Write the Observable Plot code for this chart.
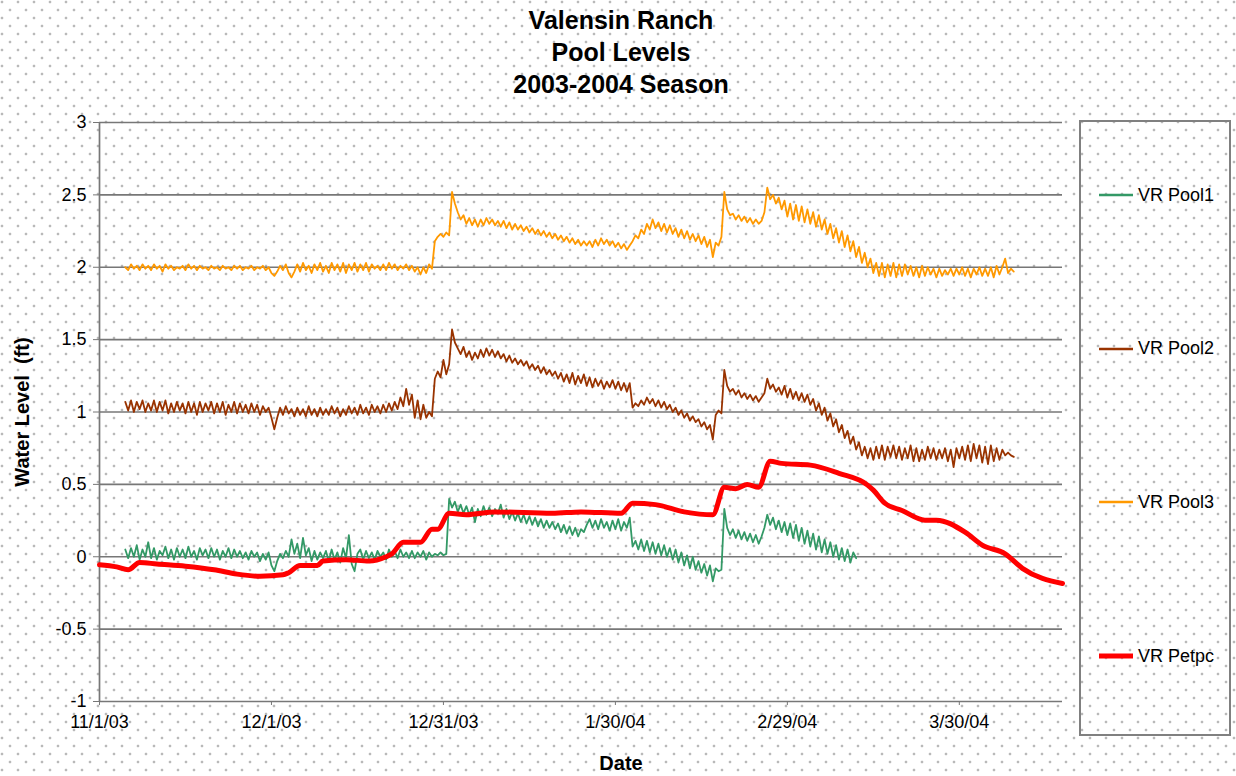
<!DOCTYPE html>
<html>
<head>
<meta charset="utf-8">
<script src="https://cdn.jsdelivr.net/npm/d3@7"></script>
<script src="https://cdn.jsdelivr.net/npm/@observablehq/plot@0.6"></script>
<style>
html,body{margin:0;padding:0;}
body{width:1236px;height:776px;overflow:hidden;background-color:#fff;
  background-image: radial-gradient(circle at 2px 2px, #b9b9b9 1.1px, rgba(255,255,255,0) 1.7px), radial-gradient(circle at 10px 10px, #b9b9b9 1.1px, rgba(255,255,255,0) 1.7px);
  background-size:16px 16px;
  font-family:"Liberation Sans",Arial,sans-serif;}
#wrap{position:relative;width:1236px;height:776px;}
#chart{position:absolute;left:0;top:0;}
#title{position:absolute;left:3px;top:4px;width:1236px;text-align:center;font-weight:bold;font-size:25px;line-height:32px;color:#000;}
#legend{position:absolute;left:1079px;top:120px;width:148px;height:612px;border:2px solid #808080;}
.item{position:absolute;left:0;height:24px;display:flex;align-items:center;font-size:18px;color:#000;white-space:nowrap;}
.item svg{margin-left:17px;margin-right:4px;}
</style>
</head>
<body>
<div id="wrap">
  <div id="chart"></div>
  <div id="title"></div>
  <div id="legend"></div>
</div>
<script>
// ---------- data ----------
const titleLines = ["Valensin Ranch", "Pool Levels", "2003-2004 Season"];
const yAxisTitle = "Water Level  (ft)";
const xAxisTitle = "Date";

const xDomain = ["2003-11-01", "2004-04-17"];
const xTicks = ["2003-11-01", "2003-12-01", "2003-12-31", "2004-01-30", "2004-02-29", "2004-03-30"];
const xTickLabels = ["11/1/03", "12/1/03", "12/31/03", "1/30/04", "2/29/04", "3/30/04"];
const yTicks = [-1, -0.5, 0, 0.5, 1, 1.5, 2, 2.5, 3];
const yTickLabels = ["-1", "-0.5", "0", "0.5", "1", "1.5", "2", "2.5", "3"];

const seriesNames = ["VR Pool1", "VR Pool2", "VR Pool3", "VR Petpc"];
const seriesColors = ["#339966", "#993300", "#FF9900", "#FF0000"];

// pool gauges: readings every 12 hours starting 11/5/03 12:00
const poolStart = "2003-11-05T12:00:00Z";
const poolStepHours = 12;

const pool1Values = [
  0.05,-0.01,0.06,0.00,0.08,-0.02,0.05,0.00,0.10,-0.01,
  0.06,-0.02,0.04,0.01,0.07,-0.01,0.05,-0.02,0.06,0.00,
  0.05,-0.01,0.07,0.00,0.04,-0.02,0.06,0.01,0.05,-0.01,
  0.06,0.00,0.05,-0.02,0.04,0.00,0.06,-0.01,0.05,0.00,
  0.04,-0.01,0.03,-0.02,0.04,0.00,0.03,-0.03,0.02,-0.02,
  0.03,-0.06,-0.10,-0.03,0.02,-0.01,0.04,0.00,0.12,0.02,
  0.09,-0.01,0.13,0.01,0.06,-0.03,0.04,-0.02,0.03,-0.01,
  0.04,-0.03,0.05,-0.02,0.03,-0.04,0.06,-0.01,0.15,-0.05,
  -0.10,0.02,0.05,-0.02,0.04,-0.01,0.03,-0.02,0.04,0.00,
  0.03,-0.02,0.05,0.00,0.04,-0.01,0.05,0.00,0.03,-0.01,
  0.04,-0.01,0.03,0.00,0.04,-0.02,0.03,0.00,0.02,0.01,
  0.03,0.01,0.02,0.40,0.34,0.38,0.31,0.36,0.30,0.35,
  0.29,0.34,0.24,0.33,0.28,0.35,0.29,0.34,0.28,0.33,
  0.30,0.36,0.27,0.33,0.26,0.31,0.25,0.30,0.24,0.29,
  0.23,0.28,0.22,0.27,0.21,0.26,0.20,0.25,0.20,0.24,
  0.19,0.23,0.17,0.22,0.16,0.21,0.15,0.20,0.14,0.19,
  0.17,0.22,0.26,0.20,0.25,0.19,0.26,0.20,0.24,0.18,
  0.25,0.19,0.26,0.18,0.24,0.20,0.27,0.07,0.11,0.05,
  0.12,0.04,0.11,0.03,0.10,0.02,0.09,0.01,0.08,0.00,
  0.06,-0.02,0.05,-0.04,0.03,-0.06,0.01,-0.08,0.00,-0.09,
  -0.03,-0.11,-0.05,-0.13,-0.06,-0.17,-0.08,-0.10,-0.09,0.33,
  0.20,0.15,0.19,0.13,0.18,0.12,0.17,0.11,0.16,0.10,
  0.15,0.09,0.14,0.20,0.29,0.22,0.27,0.19,0.25,0.17,
  0.24,0.15,0.23,0.13,0.22,0.11,0.20,0.09,0.18,0.07,
  0.16,0.05,0.14,0.03,0.12,0.02,0.10,0.00,0.08,-0.02,
  0.06,-0.03,0.05,-0.04,0.03,-0.01
];

const pool2Values = [
  1.07,1.01,1.08,1.00,1.07,1.02,1.08,1.00,1.06,1.01,
  1.08,1.00,1.07,1.01,1.08,0.99,1.06,1.00,1.07,1.01,
  1.06,0.99,1.07,1.00,1.06,0.98,1.07,1.00,1.06,1.01,
  1.07,0.99,1.06,1.00,1.07,0.98,1.05,1.00,1.07,0.99,
  1.06,1.00,1.05,0.99,1.06,1.00,1.05,0.98,1.04,1.00,
  1.03,0.96,0.88,0.96,1.03,0.98,1.04,0.99,1.02,0.97,
  1.03,0.98,1.02,0.97,1.04,0.98,1.02,0.97,1.03,0.98,
  1.02,0.98,1.04,0.99,1.03,0.97,1.02,0.98,1.04,0.99,
  1.03,0.98,1.05,0.99,1.03,0.98,1.05,1.00,1.04,0.99,
  1.05,1.00,1.06,1.01,1.07,1.02,1.10,1.04,1.16,1.05,
  1.12,0.96,1.08,0.95,1.05,0.96,1.00,0.97,1.23,1.28,
  1.24,1.36,1.26,1.33,1.57,1.48,1.44,1.40,1.45,1.38,
  1.42,1.36,1.41,1.37,1.43,1.38,1.44,1.39,1.43,1.38,
  1.42,1.37,1.40,1.35,1.39,1.34,1.37,1.33,1.36,1.32,
  1.35,1.30,1.33,1.29,1.32,1.27,1.31,1.26,1.29,1.25,
  1.28,1.23,1.27,1.21,1.26,1.20,1.27,1.19,1.25,1.20,
  1.26,1.18,1.24,1.17,1.23,1.18,1.22,1.16,1.21,1.17,
  1.22,1.16,1.21,1.15,1.20,1.14,1.20,1.03,1.06,1.04,
  1.08,1.05,1.10,1.06,1.09,1.04,1.08,1.03,1.07,1.02,
  1.05,1.00,1.03,0.98,1.01,0.96,0.99,0.94,0.97,0.93,
  0.95,0.90,0.93,0.88,0.91,0.81,0.98,1.01,0.99,1.29,
  1.18,1.14,1.16,1.12,1.15,1.10,1.13,1.09,1.12,1.08,
  1.11,1.07,1.10,1.13,1.23,1.16,1.19,1.14,1.17,1.12,
  1.18,1.10,1.16,1.09,1.14,1.08,1.13,1.07,1.12,1.05,
  1.09,1.01,1.06,0.98,1.03,0.94,0.99,0.90,0.95,0.86,
  0.91,0.82,0.87,0.78,0.83,0.74,0.79,0.70,0.76,0.68,
  0.75,0.67,0.76,0.68,0.77,0.67,0.76,0.69,0.77,0.68,
  0.76,0.67,0.75,0.68,0.77,0.66,0.75,0.66,0.74,0.67,
  0.76,0.68,0.75,0.67,0.74,0.68,0.75,0.66,0.74,0.62,
  0.75,0.68,0.76,0.67,0.77,0.66,0.78,0.68,0.77,0.65,
  0.76,0.64,0.77,0.66,0.75,0.67,0.74,0.70,0.72,0.70,
  0.69
];

const pool3Values = [
  2.00,1.98,2.02,1.99,2.01,1.98,2.02,1.99,2.01,1.98,
  2.02,1.99,2.01,1.97,2.02,1.99,2.01,1.98,2.00,1.99,
  2.01,1.98,2.02,1.99,2.01,1.98,2.01,1.99,2.00,1.98,
  2.01,1.99,2.00,1.98,2.01,1.99,2.00,1.98,2.01,1.99,
  2.01,1.98,2.00,1.99,2.01,1.98,2.00,1.99,2.01,1.98,
  2.00,1.96,1.94,1.97,2.01,1.98,2.02,1.96,1.93,1.97,
  2.02,1.97,2.03,1.98,2.01,1.96,2.02,1.98,2.03,1.97,
  2.01,1.96,2.03,1.98,2.02,1.97,2.03,1.96,2.02,1.98,
  2.03,1.97,2.02,1.98,2.03,1.97,2.02,1.99,2.01,1.98,
  2.02,1.98,2.03,1.99,2.02,1.98,2.01,1.99,2.02,1.98,
  2.01,1.97,2.00,1.95,2.00,1.96,2.02,1.99,2.18,2.21,
  2.23,2.21,2.24,2.22,2.52,2.44,2.38,2.33,2.36,2.30,
  2.34,2.29,2.33,2.28,2.33,2.29,2.34,2.30,2.33,2.29,
  2.32,2.28,2.32,2.27,2.31,2.26,2.30,2.26,2.29,2.25,
  2.28,2.24,2.27,2.23,2.26,2.22,2.25,2.21,2.24,2.20,
  2.23,2.19,2.22,2.18,2.21,2.17,2.20,2.16,2.19,2.15,
  2.18,2.15,2.18,2.14,2.19,2.15,2.20,2.16,2.19,2.15,
  2.18,2.14,2.17,2.13,2.16,2.12,2.15,2.18,2.22,2.20,
  2.26,2.23,2.30,2.26,2.33,2.27,2.31,2.25,2.30,2.24,
  2.29,2.23,2.27,2.21,2.26,2.20,2.25,2.19,2.23,2.18,
  2.22,2.16,2.21,2.14,2.19,2.07,2.17,2.15,2.21,2.52,
  2.40,2.36,2.37,2.33,2.36,2.32,2.35,2.31,2.34,2.30,
  2.33,2.30,2.32,2.38,2.55,2.47,2.50,2.44,2.48,2.40,
  2.46,2.35,2.44,2.33,2.43,2.32,2.42,2.31,2.40,2.30,
  2.38,2.28,2.36,2.26,2.33,2.23,2.30,2.20,2.27,2.17,
  2.25,2.14,2.22,2.11,2.18,2.07,2.14,2.03,2.10,2.00,
  2.06,1.96,2.03,1.94,2.03,1.93,2.02,1.94,2.03,1.93,
  2.02,1.94,2.02,1.95,2.01,1.94,2.00,1.93,2.01,1.94,
  2.00,1.95,1.99,1.93,1.99,1.94,1.98,1.95,1.99,1.94,
  1.99,1.95,2.00,1.94,1.99,1.93,1.99,1.95,2.00,1.94,
  1.99,1.94,2.00,1.93,2.01,1.95,2.00,2.06,1.96,1.99,
  1.97
];

const petDates = ["2003-11-01","2003-11-04","2003-11-06","2003-11-08","2003-11-11","2003-11-16","2003-11-21","2003-11-25","2003-11-29","2003-12-03","2003-12-04","2003-12-06","2003-12-09","2003-12-10","2003-12-14","2003-12-18","2003-12-21","2003-12-22","2003-12-24","2003-12-27","2003-12-29","2003-12-30","2004-01-01","2004-01-04","2004-01-09","2004-01-19","2004-01-24","2004-01-31","2004-02-02","2004-02-06","2004-02-11","2004-02-16","2004-02-18","2004-02-20","2004-02-22","2004-02-24","2004-02-26","2004-02-28","2004-03-04","2004-03-09","2004-03-14","2004-03-15","2004-03-17","2004-03-20","2004-03-24","2004-03-26","2004-03-31","2004-04-03","2004-04-07","2004-04-10","2004-04-17"];
const petValues = [-0.055,-0.07,-0.09,-0.04,-0.05,-0.065,-0.09,-0.12,-0.135,-0.125,-0.11,-0.06,-0.06,-0.03,-0.02,-0.03,0.0,0.02,0.10,0.10,0.19,0.19,0.30,0.29,0.31,0.30,0.31,0.30,0.37,0.36,0.31,0.29,0.48,0.47,0.50,0.48,0.66,0.645,0.633,0.576,0.495,0.46,0.37,0.32,0.253,0.253,0.17,0.08,0.02,-0.08,-0.185];

// ---------- build tables ----------
const t0 = new Date(poolStart).getTime();
const stepMs = poolStepHours * 3600 * 1000;
const toRows = (vals) => vals.map((v, i) => ({date: new Date(t0 + i * stepMs), value: v}));
const pool1 = toRows(pool1Values);
const pool2 = toRows(pool2Values);
const pool3 = toRows(pool3Values);
const petpc = petDates.map((d, i) => ({date: new Date(d + "T00:00:00Z"), value: petValues[i]}));

const xTickDates = xTicks.map(d => new Date(d + "T00:00:00Z"));
const xLabelMap = new Map(xTickDates.map((d, i) => [+d, xTickLabels[i]]));
const yLabelMap = new Map(yTicks.map((d, i) => [d, yTickLabels[i]]));
const domainDates = xDomain.map(d => new Date(d + "T00:00:00Z"));

const font = "'Liberation Sans', Arial, Helvetica, sans-serif";

const chart = Plot.plot({
  width: 1236,
  height: 776,
  marginLeft: 99,
  marginRight: 174,
  marginTop: 122,
  marginBottom: 75,
  style: {background: "transparent", fontFamily: font, fontSize: "18px", color: "#000", overflow: "visible"},
  x: {type: "utc", domain: domainDates},
  y: {domain: [-1, 3]},
  marks: [
    Plot.ruleY(yTicks, {stroke: "#777", strokeWidth: 1.7}),
    Plot.ruleX([domainDates[0]], {stroke: "#777", strokeWidth: 1.7}),
    Plot.axisY({ticks: yTicks, tickFormat: d => yLabelMap.get(d), tickSize: 6, tickPadding: 7, fontSize: 18, label: null, stroke: "#777"}),
    Plot.axisX({ticks: xTickDates, tickFormat: d => xLabelMap.get(+d), tickSize: 4, tickPadding: 10, fontSize: 18, label: null, stroke: "#777"}),
    Plot.line(pool1, {x: "date", y: "value", stroke: seriesColors[0], strokeWidth: 1.8}),
    Plot.line(pool2, {x: "date", y: "value", stroke: seriesColors[1], strokeWidth: 1.8}),
    Plot.line(pool3, {x: "date", y: "value", stroke: seriesColors[2], strokeWidth: 1.8}),
    Plot.line(petpc, {x: "date", y: "value", stroke: seriesColors[3], strokeWidth: 5, curve: "monotone-x", strokeLinejoin: "round", strokeLinecap: "round"}),
    Plot.text([yAxisTitle], {frameAnchor: "left", dx: -77, rotate: -90, textAnchor: "middle", lineAnchor: "middle", fontWeight: "bold", fontSize: 20, fill: "#000"}),
    Plot.text([xAxisTitle], {frameAnchor: "bottom", dx: 40, dy: 62, textAnchor: "middle", lineAnchor: "middle", fontWeight: "bold", fontSize: 20, fill: "#000"})
  ]
});
document.getElementById("chart").appendChild(chart);

// title
document.getElementById("title").innerHTML = titleLines.map(t => `<div>${t}</div>`).join("");

// legend
const legend = document.getElementById("legend");
seriesNames.forEach((name, i) => {
  const item = document.createElement("div");
  item.className = "item";
  item.style.top = (61 + i * 153.7) + "px";
  const w = i === 3 ? 5 : 2.5;
  item.innerHTML = `<svg width="36" height="10"><line x1="1" x2="35" y1="5" y2="5" stroke="${seriesColors[i]}" stroke-width="${w}"/></svg><span>${name}</span>`;
  legend.appendChild(item);
});
</script>
</body>
</html>
